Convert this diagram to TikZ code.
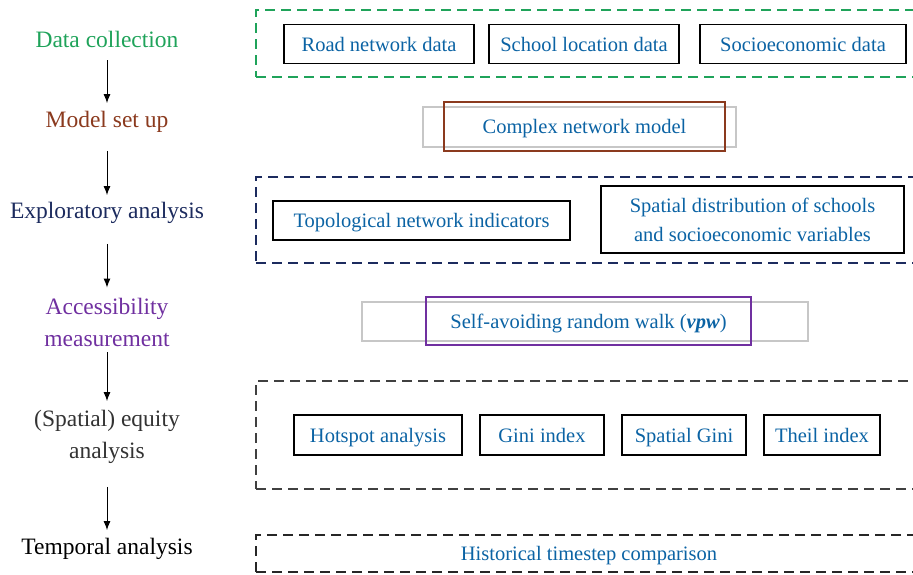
\documentclass[tikz,border=0pt]{standalone}
\usepackage{fontspec}
\setmainfont{Liberation Serif}
\usetikzlibrary{positioning}
\usetikzlibrary{arrows.meta}
\definecolor{stagegreen}{HTML}{1FA35A}
\definecolor{stagebrown}{HTML}{8B3A1E}
\definecolor{stagenavy}{HTML}{1C2B5E}
\definecolor{stagepurple}{HTML}{7030A0}
\definecolor{stagegray}{HTML}{333333}
\definecolor{itemblue}{HTML}{0B63A4}
\tikzset{
    stage/.style = {align=center, inner sep=5pt, font=\fontsize{23.5}{32}\selectfont},
    item/.style = {rectangle, draw=black, line width=1.8pt, text=itemblue, minimum height=39pt, inner sep=0pt, align=center, text height=15pt, text depth=1pt, font=\fontsize{20.5}{29}\selectfont},
    ghost/.style = {rectangle, draw=black!22, line width=1.2pt, minimum height=39pt},
    group/.style = {rectangle, line width=1.5pt, dash pattern=on 10pt off 6pt, minimum width=664pt, text=itemblue, text height=15pt, text depth=1pt, font=\fontsize{20.5}{29}\selectfont},
    edgen/.style = {-{Latex[length=9pt,width=7pt]}, line width=1pt},
}

\begin{document}
\begin{tikzpicture}[x=1pt, y=-1pt]
  \useasboundingbox (0,0) rectangle (913,574);

  % stages
  \node[stage, text=stagegreen]  (s1) at (107,39)  {Data collection};
  \node[stage, text=stagebrown]  (s2) at (107,122) {Model set up};
  \node[stage, text=stagenavy]   (s3) at (107,213) {Exploratory analysis};
  \node[stage, text=stagepurple] (s4) at (107,322) {Accessibility\\measurement};
  \node[stage, text=stagegray]   (s5) at (107,437) {(Spatial) equity\\analysis};
  \node[stage, text=black]       (s6) at (107,549) {Temporal analysis};

  \draw[edgen, shorten <=8pt, shorten >=3pt] (s1) -- (s2);
  \draw[edgen, shorten <=13pt, shorten >=2pt] (s2) -- (s3);
  \draw[edgen, shorten <=15pt, shorten >=5pt] (s3) -- (s4);
  \draw[edgen, shorten <=1pt, shorten >=4pt] (s4) -- (s5);
  \draw[edgen, shorten <=18pt, shorten >=3pt] (s5) -- (s6);

  % groups
  \node[group, draw=stagegreen, minimum height=67pt] (g1) at (588,43.5) {};
  \node[group, draw=stagenavy, minimum height=86pt] (g3) at (588,220) {};
  \node[group, draw=black!75, minimum height=108pt] (g5) at (588,435) {};
  \node[group, draw=black!85, minimum height=37pt] (g6) at (588,553.5) {\hspace*{2pt}Historical timestep comparison};

  % items
  \node[item, minimum width=190pt] (road) at (379,44) {Road network data};
  \node[item, minimum width=190pt] (school) at (584,44) {School location data};
  \node[item, minimum width=206pt] (socio) at (803,44) {Socioeconomic data};

  \node[ghost, minimum width=313pt, minimum height=40pt] (modelg) at (579.5,127) {};
  \node[item, draw=stagebrown, minimum width=281pt, minimum height=49pt] (model) at (584.5,126.5) {Complex network model};

  \node[item, minimum width=297pt] (topo) at (421.5,220.5) {Topological network indicators};
  \node[item, minimum width=303pt, minimum height=67pt, text height=, text depth=] (spatial) at (752.5,219.5) {Spatial distribution of schools\\and socioeconomic variables};

  \node[ghost, minimum width=446pt] (walkg) at (585,321.5) {};
  \node[item, draw=stagepurple, minimum width=325pt, minimum height=48pt] (walk) at (588.5,321) {Self-avoiding random walk (\textbf{\textit{vpw}})};

  \node[item, minimum width=168pt, minimum height=40pt] (hot) at (378,435) {Hotspot analysis};
  \node[item, minimum width=124pt, minimum height=40pt] (gini) at (542,435) {Gini index};
  \node[item, minimum width=124pt, minimum height=40pt] (sgini) at (684,435) {Spatial Gini};
  \node[item, minimum width=116pt, minimum height=40pt] (theil) at (822,435) {Theil index};
\end{tikzpicture}
\end{document}
